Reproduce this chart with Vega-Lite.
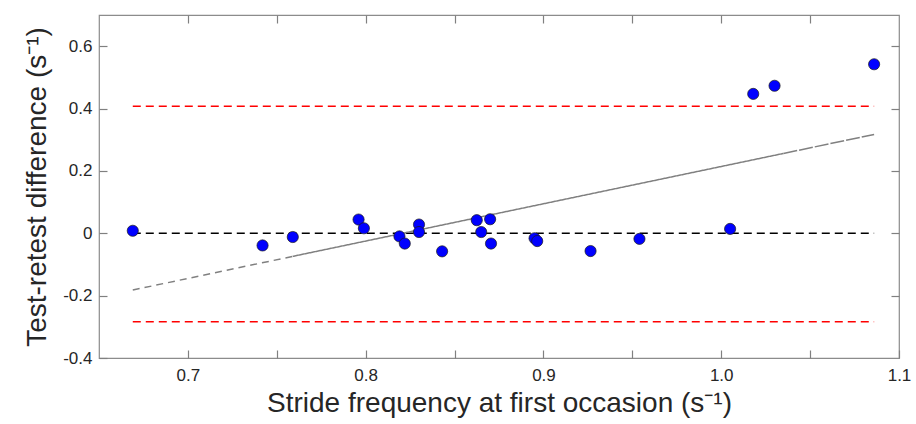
{
  "$schema": "https://vega.github.io/schema/vega-lite/v6.json",
  "width": 800,
  "height": 343,
  "autosize": {"type": "none"},
  "padding": {"left": 99, "top": 15, "right": 17, "bottom": 66},
  "background": "white",
  "config": {
    "view": {"stroke": "#8c8c8c", "strokeWidth": 1.2},
    "font": "Liberation Sans"
  },
  "resolve": {"axis": {"x": "independent", "y": "independent"}},
  "datasets": {
    "points": [
      {"x": 0.669, "y": 0.008},
      {"x": 0.742, "y": -0.039},
      {"x": 0.759, "y": -0.012},
      {"x": 0.796, "y": 0.044},
      {"x": 0.799, "y": 0.016},
      {"x": 0.819, "y": -0.010},
      {"x": 0.822, "y": -0.033},
      {"x": 0.830, "y": 0.028},
      {"x": 0.830, "y": 0.004},
      {"x": 0.843, "y": -0.058},
      {"x": 0.8625, "y": 0.042},
      {"x": 0.870, "y": 0.045},
      {"x": 0.865, "y": 0.004},
      {"x": 0.8705, "y": -0.033},
      {"x": 0.895, "y": -0.016},
      {"x": 0.8965, "y": -0.025},
      {"x": 0.9265, "y": -0.057},
      {"x": 0.954, "y": -0.018},
      {"x": 1.005, "y": 0.014},
      {"x": 1.018, "y": 0.447},
      {"x": 1.030, "y": 0.473},
      {"x": 1.086, "y": 0.542}
    ],
    "limits": [
      {"x": 0.669, "xe": 1.086, "y": 0.407, "kind": "upper"},
      {"x": 0.669, "xe": 1.086, "y": -0.284, "kind": "lower"}
    ],
    "zero": [
      {"x": 0.669, "xe": 1.086, "y": 0}
    ],
    "fit": [
      {"x": 0.669, "y": -0.182, "part": "left"},
      {"x": 0.759, "y": -0.074, "part": "left"},
      {"x": 0.759, "y": -0.074, "part": "mid"},
      {"x": 1.035, "y": 0.256, "part": "mid"},
      {"x": 1.035, "y": 0.256, "part": "right"},
      {"x": 1.086, "y": 0.317, "part": "right"}
    ]
  },
  "encoding": {
    "x": {"field": "x", "type": "quantitative", "scale": {"domain": [0.65, 1.1], "nice": false, "zero": false}, "axis": null},
    "y": {"field": "y", "type": "quantitative", "scale": {"domain": [-0.4, 0.7], "nice": false, "zero": false}, "axis": null}
  },
  "layer": [
    {
      "data": {"name": "limits"},
      "mark": {"type": "rule", "color": "#ff0000", "strokeWidth": 1.5, "strokeDash": [8, 5]},
      "encoding": {
        "x": {"field": "x", "type": "quantitative", "axis": {
          "orient": "top", "values": [0.7, 0.75, 0.8, 0.85, 0.9, 0.95, 1.0, 1.05], "labels": false, "title": null,
          "domain": false, "grid": false, "zindex": 1, "offset": -8, "tickSize": 8, "tickColor": "#808080", "tickWidth": 1.2}},
        "x2": {"field": "xe"},
        "y": {"field": "y", "type": "quantitative", "axis": {
          "orient": "right", "values": [-0.2, 0, 0.2, 0.4, 0.6], "labels": false, "title": null,
          "domain": false, "grid": false, "zindex": 1, "offset": -8, "tickSize": 8, "tickColor": "#808080", "tickWidth": 1.2}}
      }
    },
    {
      "data": {"name": "zero"},
      "mark": {"type": "rule", "color": "#000000", "strokeWidth": 1.5, "strokeDash": [8, 5]},
      "encoding": {
        "x2": {"field": "xe"}
      }
    },
    {
      "data": {"name": "fit"},
      "mark": {"type": "line", "color": "#808080", "strokeWidth": 1.5},
      "encoding": {
        "strokeDash": {"field": "part", "type": "nominal", "scale": {"domain": ["left", "mid", "right"], "range": [[7, 5], [1, 0], [14, 2]]}, "legend": null}
      }
    },
    {
      "data": {"name": "points"},
      "mark": {"type": "circle", "size": 125, "fill": "#0000ff", "stroke": "#1a1a1a", "strokeWidth": 0.7, "opacity": 1},
      "encoding": {
        "x": {"field": "x", "type": "quantitative", "axis": {
          "orient": "bottom", "values": [0.7, 0.75, 0.8, 0.85, 0.9, 0.95, 1.0, 1.05, 1.1],
          "labelExpr": "abs(datum.value*10 - round(datum.value*10)) < 0.001 ? format(datum.value, '.1f') : ''",
          "labelFlush": false, "labelOverlap": false,
          "domain": false, "grid": false, "zindex": 1, "offset": -8, "tickSize": 8, "tickColor": "#808080", "tickWidth": 1.2,
          "labelFont": "Liberation Sans", "labelFontSize": 17, "labelColor": "#262626", "labelPadding": 9,
          "title": "Stride frequency at first occasion (s⁻¹)", "titleFont": "Liberation Sans", "titleFontSize": 28,
          "titleFontWeight": "normal", "titleColor": "#262626", "titlePadding": 6}},
        "y": {"field": "y", "type": "quantitative", "axis": {
          "orient": "left", "values": [-0.4, -0.2, 0, 0.2, 0.4, 0.6],
          "labelExpr": "datum.value == 0 ? '0' : replace(format(datum.value, '.1f'), '−', '-')",
          "labelOverlap": false, "labelFlush": false,
          "domain": false, "grid": false, "zindex": 1, "offset": -8, "tickSize": 8, "tickColor": "#808080", "tickWidth": 1.2,
          "labelFont": "Liberation Sans", "labelFontSize": 17, "labelColor": "#262626", "labelPadding": 7,
          "title": "Test-retest difference (s⁻¹)", "titleFont": "Liberation Sans", "titleFontSize": 28,
          "titleFontWeight": "normal", "titleColor": "#262626", "titlePadding": 11}}
      }
    }
  ]
}
